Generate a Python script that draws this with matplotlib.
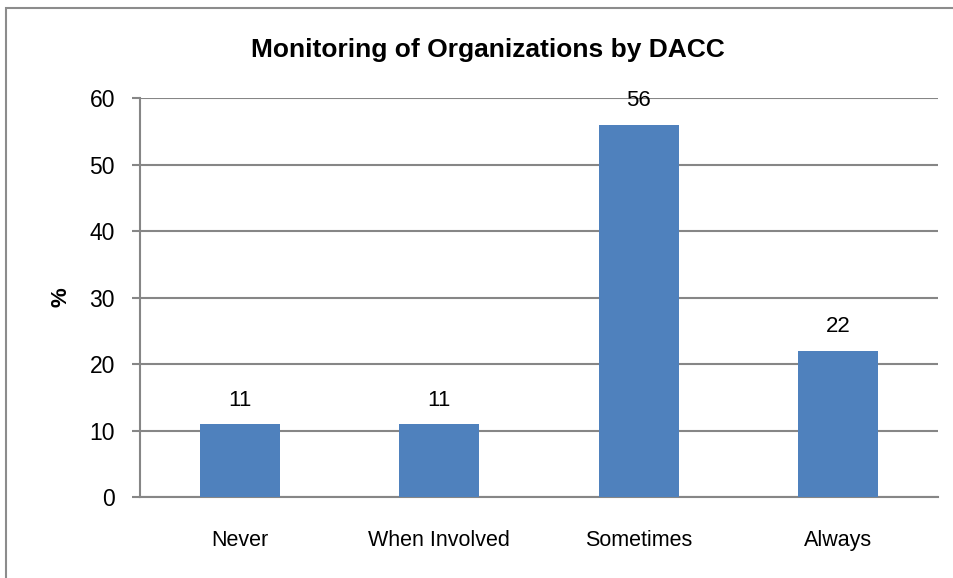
import matplotlib.pyplot as plt
from matplotlib.patches import Rectangle

categories = ["Never", "When Involved", "Sometimes", "Always"]
values = [11, 11, 56, 22]
labels = ["11", "11", "56", "22"]

plt.rcParams["font.family"] = ["Liberation Sans Narrow", "Liberation Sans", "DejaVu Sans"]

fig = plt.figure(figsize=(9.54, 5.78), dpi=100)
ax = fig.add_axes([0.1468, 0.1401, 0.8364, 0.6903])

# outer chart frame
fig.patches.append(Rectangle((0.006, -0.1), 1.1, 1.086, transform=fig.transFigure,
                             fill=False, edgecolor="#8c8c8c", lw=1.5))

x = range(len(categories))
ax.bar(x, values, width=0.4, color="#4F81BD", zorder=3)
for xi, v, lab in zip(x, values, labels):
    ax.text(xi, v + 2.0, lab, ha="center", va="bottom", fontsize=16)

ax.set_xlim(-0.5, len(categories) - 0.5)
ax.set_ylim(0, 60)
ax.set_yticks(range(0, 61, 10))
ax.set_xticks(list(x))
ax.set_xticklabels(categories, fontsize=15.5)
ax.tick_params(axis="y", labelsize=16.5, length=6, color="#868686", width=1.5, pad=12)
ax.tick_params(axis="x", length=0, pad=24)
ax.grid(axis="y", color="#868686", lw=1.5, zorder=0)
for side in ["top", "right"]:
    ax.spines[side].set_visible(False)
ax.spines["left"].set_color("#868686")
ax.spines["left"].set_linewidth(1.5)
ax.spines["bottom"].set_color("#868686")
ax.spines["bottom"].set_linewidth(1.5)

ax.set_ylabel("%", fontsize=16, fontweight="bold", labelpad=13)
fig.text(0.511, 0.914, "Monitoring of Organizations by DACC", ha="center", va="center",
         fontsize=19, fontweight="bold")

fig.savefig("out.png", dpi=100)
